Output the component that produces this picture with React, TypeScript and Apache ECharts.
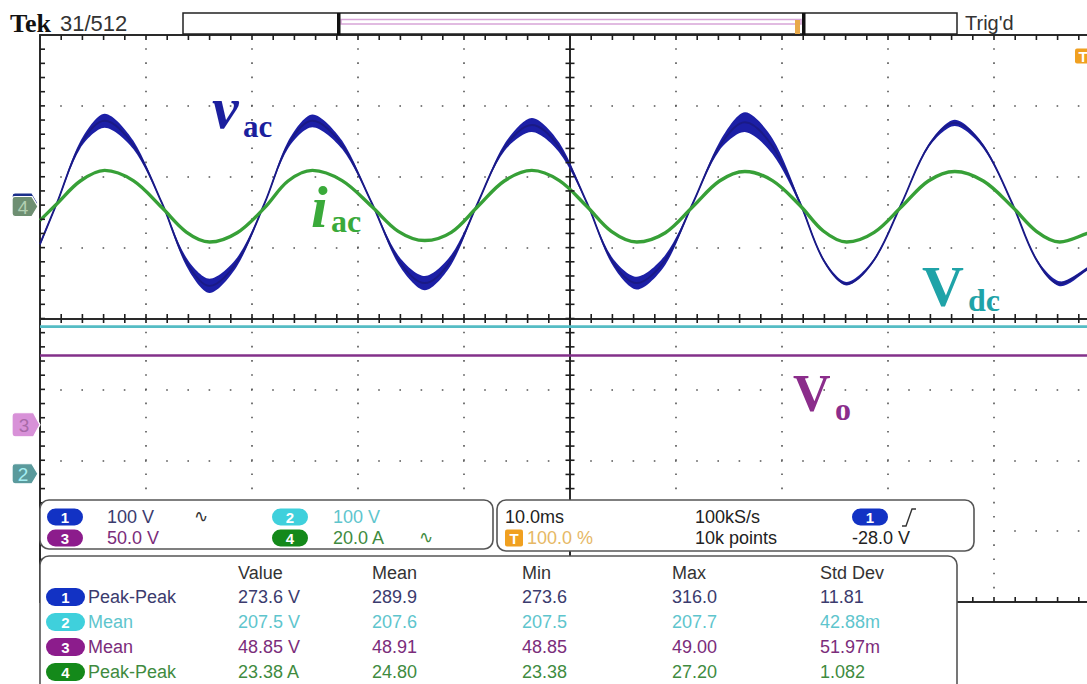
import React, { useEffect, useRef } from "react";
import * as echarts from "echarts";

// ---- readings (time in ms from the trigger point at the screen centre) ----
const TIME_MS = [-50, -48.4, -46.2, -43.9, -41.2, -38.5, -36.2, -34.0, -31.4, -28.8, -26.6, -24.3, -21.5, -18.7, -16.2, -13.7, -11.2, -8.7, -6.2, -3.6, -1.0, 1.6, 3.9, 6.3, 9.0, 11.6, 14.1, 16.5, 19.1, 21.7, 23.9, 26.1, 28.7, 31.3, 33.8, 36.3, 39.0, 41.7, 44.0, 46.2, 48.8, 50];
// channel 1, v_ac (V)
const VAC_V = [-58, 0, 82, 116, 82, 0, -83, -117, -83, 0, 82, 116, 82, 0, -80, -113, -80, 0, 78, 110, 78, 0, -80, -113, -80, 0, 80, 114, 80, 0, -80, -114, -80, 0, 80, 113, 80, 0, -80, -114, -93, -78];
// thickness of the switching-noise band on v_ac (V)
const VAC_NOISE_V = [5, 3, 10, 20, 12, 3, 12, 20, 12, 3, 10, 18, 12, 3, 12, 20, 14, 3, 10, 20, 14, 3, 10, 18, 14, 3, 12, 28, 22, 6, 4, 5, 4, 2, 5, 9, 6, 2, 4, 7, 5, 4];
// channel 4, i_ac (A)
const IAC_A = [-3.9, 0.8, 7.2, 10.2, 7.3, -0.3, -7.2, -10.0, -7.4, -0.3, 7.2, 10.2, 7.3, 0, -7.0, -9.6, -7.3, 0, 7.2, 10.2, 7.3, 0, -7.0, -10.0, -7.4, 0, 7.2, 9.9, 7.3, 0.3, -6.9, -10.0, -7.3, 0, 7.2, 9.9, 7.2, 0, -7.0, -10.0, -7.6, -6.3];
// channel 2 (V_dc) and channel 3 (V_o), DC levels
const DC_TIME_MS = [-50, 50];
const VDC_V = [207.5, 207.5];
const VO_V = [48.85, 48.85];

// ---- scope settings ----
const CH_SCALE: Record<number, number> = { 1: 100, 2: 100, 3: 50, 4: 20 };
const CH_POS: Record<number, number> = { 1: 1.63, 2: -2.19, 3: -1.5, 4: 1.58 };
const T_MIN = -50, T_MAX = 50, T_DIV = 10; // ms, 10 divisions
const D_MIN = -4, D_MAX = 4; // 8 vertical divisions
const MINOR = 5; // minor ticks per division

// ---- readout texts ----
const VSCALE_LABELS = ["100 V", "100 V", "50.0 V", "20.0 A"];
const COUPLING = ["∿", "", "", "∿"];
const TIMEBASE = "10.0ms";
const SAMPLE_RATE = "100kS/s";
const RECORD_LEN = "10k points";
const TRIG_POS = "100.0 %";
const TRIG_LEVEL = "-28.0 V";
const MEAS_HEAD = ["Value", "Mean", "Min", "Max", "Std Dev"];
const MEAS_CH = [1, 2, 3, 4];
const MEAS_TYPE = ["Peak-Peak", "Mean", "Mean", "Peak-Peak"];
const MEAS_VALUE = ["273.6 V", "207.5 V", "48.85 V", "23.38 A"];
const MEAS_MEAN = ["289.9", "207.6", "48.91", "24.80"];
const MEAS_MIN = ["273.6", "207.5", "48.85", "23.38"];
const MEAS_MAX = ["316.0", "207.7", "49.00", "27.20"];
const MEAS_STD = ["11.81", "42.88m", "51.97m", "1.082"];

const CH_TEXT: Record<number, string> = { 1: "#3b3b6e", 2: "#5ec5cd", 3: "#7b2c7b", 4: "#3f8b3f" };
const CH_BADGE: Record<number, string> = { 1: "#1232c4", 2: "#3fd0dc", 3: "#8c1c8c", 4: "#14891a" };

const SANS = '"Liberation Sans", Arial, sans-serif';
const SERIF = '"Liberation Serif", "Times New Roman", serif';
const AX = "#2a2a2a";
const SMOOTH = 0.34;

const toDiv = (v: number, ch: number) => v / CH_SCALE[ch] + CH_POS[ch];

function txt(x: number, y: number, text: string, fill: string, size = 18, extra: any = {}) {
  return {
    type: "text",
    z: 101,
    style: {
      x, y, text, fill, fontSize: size, fontFamily: SANS,
      align: "left", textAlign: "left", verticalAlign: "middle", textVerticalAlign: "middle",
      ...extra,
    },
  };
}
function badge(x: number, y: number, w: number, h: number, fill: string, label: string, color = "#fff", r?: number) {
  return {
    type: "group",
    z: 101,
    children: [
      { type: "rect", z: 101, shape: { x, y: y - h / 2, width: w, height: h, r: r ?? h / 2 }, style: { fill } },
      {
        type: "text", z: 102,
        style: {
          x: x + w / 2, y: y + 0.5, text: label, fill: color, fontSize: 15, fontWeight: "bold", fontFamily: SANS,
          align: "center", textAlign: "center", verticalAlign: "middle", textVerticalAlign: "middle",
        },
      },
    ],
  };
}
function panel(x: number, y: number, w: number, h: number) {
  return { type: "rect", z: 100, shape: { x, y, width: w, height: h, r: 9 }, style: { fill: "#fff", stroke: "#555", lineWidth: 1.6 } };
}

function buildOption(): any {
  const xBase = {
    type: "value", min: T_MIN, max: T_MAX, interval: T_DIV,
    axisLabel: { show: false }, splitLine: { show: false },
    axisTick: { show: false }, minorTick: { show: false },
  };
  const yBase = { ...xBase, min: D_MIN, max: D_MAX, interval: 1 };
  const line = (onZero: boolean) => ({ show: true, onZero, lineStyle: { color: AX, width: 2 } });

  const xAxis = [
    { ...xBase, position: "top", axisLine: line(false), splitLine: { show: true, lineStyle: { color: "#555", width: 1.6, type: [1.6, 12.575], dashOffset: 0.8 } } },
    { ...xBase, position: "bottom", axisLine: line(false) },
    { ...xBase, position: "bottom", axisLine: line(true) },
  ];
  const yAxis = [
    { ...yBase, position: "left", axisLine: line(false), splitLine: { show: true, lineStyle: { color: "#555", width: 1.6, type: [1.6, 19.6], dashOffset: 0.8 } } },
    { ...yBase, position: "left", axisLine: line(true) },
  ];

  const vac = TIME_MS.map((t, i) => [t, toDiv(VAC_V[i], 1)]);
  const iac = TIME_MS.map((t, i) => [t, toDiv(IAC_A[i], 4)]);
  const vdc = DC_TIME_MS.map((t, i) => [t, toDiv(VDC_V[i], 2)]);
  const vo = DC_TIME_MS.map((t, i) => [t, toDiv(VO_V[i], 3)]);

  const markerPath = "path://M3,0 L20,0 L26,10 L20,20 L3,20 Q0,20 0,17 L0,3 Q0,0 3,0 Z";
  const marker = (ch: number, size: number[], offX: number, fill: string, textColor: string, showLabel = true) => ({
    type: "scatter", clip: false, silent: true,
    data: [[T_MIN, CH_POS[ch]]],
    symbol: markerPath, symbolSize: size, symbolOffset: [offX, 0], symbolKeepAspect: false,
    itemStyle: { color: fill, borderColor: "#fff", borderWidth: 1.2, opacity: 1 },
    label: { show: showLabel, formatter: String(ch), position: "inside", color: textColor, fontSize: 19, fontFamily: SANS, offset: [-2, 1] },
  });

  // graticule minor-division tick marks, as tiny rect symbols placed through the axes
  const xMinor: number[] = [];
  for (let k = 1; k < ((T_MAX - T_MIN) / T_DIV) * MINOR; k++) xMinor.push(T_MIN + (k * T_DIV) / MINOR);
  const yMinor: number[] = [];
  for (let k = 1; k < (D_MAX - D_MIN) * MINOR; k++) yMinor.push(D_MIN + k / MINOR);
  const tickSeries = (data: number[][], size: number[], offset: number[]) => ({
    type: "scatter", clip: false, silent: true, z: 3, symbol: "rect",
    data, symbolSize: size, symbolOffset: offset,
    itemStyle: { color: "#1e1e1e", opacity: 1 },
  });

  const series: any[] = [
    {
      type: "custom", name: "v_ac noise", silent: true, clip: true, data: [[0, 0]],
      renderItem: (_p: any, api: any) => {
        const up = TIME_MS.map((t, i) => api.coord([t, toDiv(VAC_V[i] + VAC_NOISE_V[i] / 2, 1)]));
        const lo = TIME_MS.map((t, i) => api.coord([t, toDiv(VAC_V[i] - VAC_NOISE_V[i] / 2, 1)])).reverse();
        return { type: "polygon", shape: { points: up.concat(lo), smooth: 0.3 }, style: { fill: "#1c1fa6" } };
      },
    },
    { type: "line", name: "v_ac", data: vac, smooth: SMOOTH, symbol: "none", lineStyle: { color: "#1a1a86", width: 1.9 } },
    { type: "line", name: "i_ac", data: iac, smooth: SMOOTH, symbol: "none", lineStyle: { color: "#37a037", width: 3.4 } },
    { type: "line", name: "V_dc", data: vdc, symbol: "none", lineStyle: { color: "#55bcc4", width: 2.6 } },
    { type: "line", name: "V_o", data: vo, symbol: "none", lineStyle: { color: "#83308a", width: 2.4 } },
    tickSeries(xMinor.map((t) => [t, 0]), [1.6, 9], [0, 0]),
    tickSeries(xMinor.map((t) => [t, D_MAX]), [1.6, 5], [0, 2.5]),
    tickSeries(xMinor.map((t) => [t, D_MIN]), [1.6, 5], [0, -2.5]),
    tickSeries(yMinor.map((d) => [0, d]), [9, 1.6], [0, 0]),
    tickSeries(yMinor.map((d) => [T_MIN, d]), [5, 1.6], [2.5, 0]),
    marker(1, [26, 20], -15, "#1a2f8a", "#1a2f8a", false),
    marker(4, [26, 20], -15, "#6e8f72", "#b3d0b3"),
    marker(3, [28, 24], -14, "#d891d8", "#a86aa8"),
    marker(2, [26, 20], -15, "#5a9a9c", "#a6eef2"),
  ];

  const g: any[] = [];
  // header
  g.push(txt(10, 23, "Tek", "#111", 26, { fontFamily: SERIF, fontWeight: "bold" }));
  g.push(txt(60, 23, "31/512", "#333", 22));
  g.push({ type: "rect", z: 100, shape: { x: 183, y: 13, width: 774, height: 21 }, style: { fill: "#fff", stroke: "#222", lineWidth: 1.5 } });
  g.push({ type: "rect", z: 101, shape: { x: 341, y: 19.5, width: 460, height: 4.5 }, style: { fill: "#fff", stroke: "#d7a5d7", lineWidth: 1.5 } });
  g.push({ type: "rect", z: 102, shape: { x: 337, y: 13, width: 3.5, height: 22 }, style: { fill: "#111" } });
  g.push({ type: "rect", z: 102, shape: { x: 802, y: 13, width: 3.5, height: 22 }, style: { fill: "#111" } });
  g.push({ type: "rect", z: 102, shape: { x: 795, y: 20, width: 5, height: 14 }, style: { fill: "#e8a94a" } });
  g.push(txt(965, 23, "Trig'd", "#333", 20));
  g.push(badge(1075, 56, 16, 15, "#f0a020", "T", "#fff", 2));

  // waveform labels
  g.push(txt(212, 108, "v", "#1b1f9e", 60, { fontFamily: SERIF, fontWeight: "bold", fontStyle: "italic" }));
  g.push(txt(243, 126, "ac", "#1b1f9e", 31, { fontFamily: SERIF, fontWeight: "bold" }));
  g.push(txt(311, 207, "i", "#3aaa3a", 60, { fontFamily: SERIF, fontWeight: "bold", fontStyle: "italic" }));
  g.push(txt(331, 221, "ac", "#3aaa3a", 32, { fontFamily: SERIF, fontWeight: "bold" }));
  g.push(txt(922, 286, "V", "#1fa3a8", 58, { fontFamily: SERIF, fontWeight: "bold" }));
  g.push(txt(968, 300, "dc", "#1fa3a8", 32, { fontFamily: SERIF, fontWeight: "bold" }));
  g.push(txt(793, 393, "V", "#8b2d8b", 52, { fontFamily: SERIF, fontWeight: "bold" }));
  g.push(txt(835, 409, "o", "#8b2d8b", 32, { fontFamily: SERIF, fontWeight: "bold" }));

  // vertical settings panel
  g.push(panel(40, 500, 453, 49));
  const vRows = [517, 538];
  [1, 3].forEach((ch, r) => {
    g.push(badge(47, vRows[r], 36, 17, CH_BADGE[ch], String(ch)));
    g.push(txt(107, vRows[r], VSCALE_LABELS[ch - 1], CH_TEXT[ch], 18));
    if (COUPLING[ch - 1]) g.push(txt(194, vRows[r] - 1, COUPLING[ch - 1], "#333", 17, { fontFamily: '"DejaVu Sans"' }));
  });
  [2, 4].forEach((ch, r) => {
    g.push(badge(272, vRows[r], 36, 17, CH_BADGE[ch], String(ch)));
    g.push(txt(333, vRows[r], VSCALE_LABELS[ch - 1], CH_TEXT[ch], 18));
    if (COUPLING[ch - 1]) g.push(txt(419, vRows[r] - 1, COUPLING[ch - 1], CH_TEXT[ch], 17, { fontFamily: '"DejaVu Sans"' }));
  });

  // horizontal / trigger panel
  g.push(panel(497, 500, 477, 51));
  g.push(txt(505, 517, TIMEBASE, "#222", 18));
  g.push(txt(695, 517, SAMPLE_RATE, "#222", 18));
  g.push(badge(852, 517, 36, 17, CH_BADGE[1], "1"));
  g.push({ type: "polyline", z: 101, shape: { points: [[902, 526], [906, 526], [912, 509], [916, 509]] }, style: { stroke: "#333", lineWidth: 1.4, fill: null } });
  g.push(badge(505, 538, 18, 17, "#f0a020", "T", "#fff", 2));
  g.push(txt(527, 538, TRIG_POS, "#e6b865", 18));
  g.push(txt(695, 538, RECORD_LEN, "#222", 18));
  g.push(txt(852, 538, TRIG_LEVEL, "#222", 18));

  // measurement panel
  g.push(panel(40, 556, 917, 140));
  const colX = [238, 372, 522, 672, 820];
  MEAS_HEAD.forEach((h, i) => g.push(txt(colX[i], 573, h, "#333", 18)));
  MEAS_CH.forEach((ch, r) => {
    const y = 597 + r * 25;
    const c = CH_TEXT[ch];
    g.push(badge(46, y, 39, 18, CH_BADGE[ch], String(ch)));
    g.push(txt(88, y, MEAS_TYPE[r], c, 18));
    [MEAS_VALUE[r], MEAS_MEAN[r], MEAS_MIN[r], MEAS_MAX[r], MEAS_STD[r]].forEach((v, i) => g.push(txt(colX[i], y, v, c, 18)));
  });

  return {
    animation: false,
    backgroundColor: "#fff",
    grid: { left: 40, top: 35, width: 1060, height: 567, containLabel: false, outerBoundsMode: "none" },
    xAxis,
    yAxis,
    series,
    graphic: { elements: g },
  };
}

export default function App() {
  const ref = useRef<HTMLDivElement>(null);
  useEffect(() => {
    document.body.style.margin = "0";
    const chart = echarts.init(ref.current!, undefined, { renderer: "svg" });
    chart.setOption(buildOption());
    return () => chart.dispose();
  }, []);
  return <div ref={ref} style={{ width: 1087, height: 684, background: "#fff", overflow: "hidden" }} />;
}
